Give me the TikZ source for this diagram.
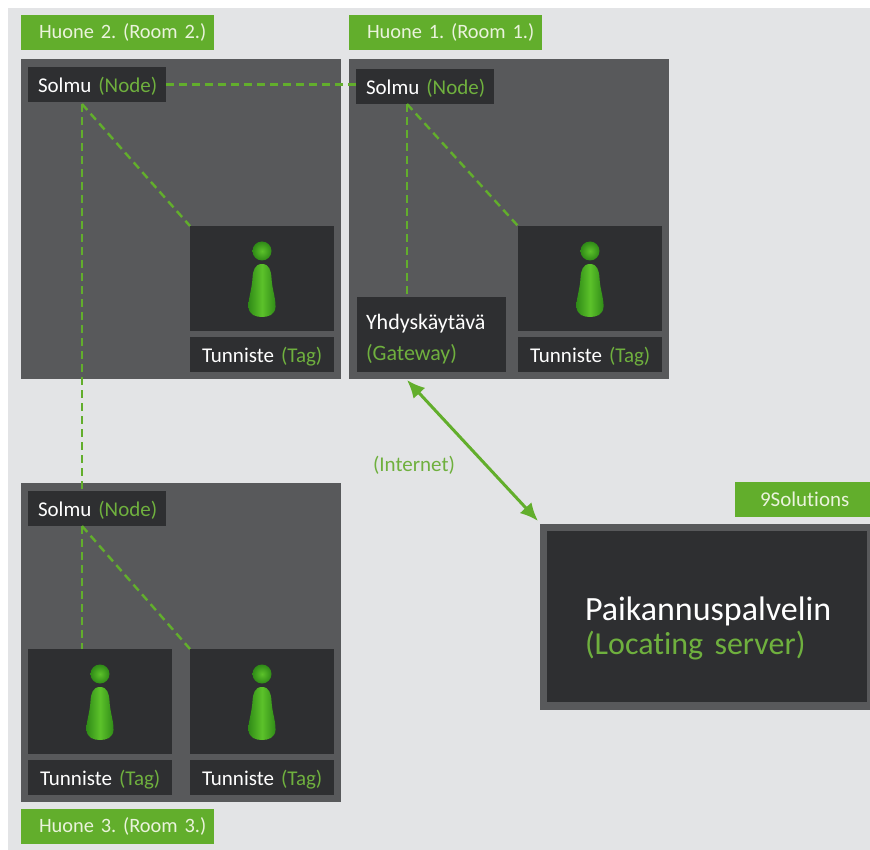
\documentclass[tikz,border=0pt]{standalone}
\usepackage{fontspec}
\usetikzlibrary{arrows.meta}
\setmainfont{Carlito}[Ligatures=NoCommon]
\definecolor{bgc}{HTML}{E3E4E6}
\definecolor{roomc}{HTML}{58595B}
\definecolor{boxc}{HTML}{2E2F31}
\definecolor{grn}{HTML}{62AE2C}
\definecolor{txtg}{HTML}{6FB03E}
\definecolor{labg}{HTML}{EAF3DC}
\definecolor{pinmid}{HTML}{5CC22A}
\definecolor{pinedge}{HTML}{2F8A17}
\newcommand{\gt}[1]{\textcolor{txtg}{#1}}
\newcommand{\lowstrut}{\rule{0pt}{19pt}}
\tikzset{x=1pt,y=-1pt,
 room/.style={fill=roomc,draw=none,anchor=north west,inner sep=0,outer sep=0},
 darkbox/.style={fill=boxc,draw=none,anchor=north west,inner sep=0,outer sep=0},
 lab/.style={darkbox,text=white,font=\fontsize{21}{24}\selectfont\frenchspacing,align=left},
 banner/.style={fill=grn,draw=none,anchor=north west,inner sep=0,outer sep=0,text=labg,font=\fontsize{20.4}{24}\selectfont\frenchspacing},
 link/.style={draw=grn,line width=2.4pt,dash pattern=on 8pt off 5pt},
 biarrow/.style={draw=grn,line width=3pt,{Latex[length=18pt,width=16pt]}-{Latex[length=18pt,width=16pt]}},
 pinc/.pic={
  \shade[inner color=pinmid,outer color=pinedge] (0,-32) circle[radius=9.5];
  \shade[left color=pinedge,right color=pinedge,middle color=pinmid]
    (0,-19) .. controls (-7,-19) and (-9,-13) .. (-9.5,-5)
    .. controls (-10,6) and (-14,16) .. (-13.5,24)
    .. controls (-13,32) and (-6,34) .. (0,34)
    .. controls (6,34) and (13,32) .. (13.5,24)
    .. controls (14,16) and (10,6) .. (9.5,-5)
    .. controls (9,-13) and (7,-19) .. (0,-19) -- cycle;
 }}
\newcommand{\boxat}[6]{\node[#1,minimum width=#4pt,minimum height=#5pt] (#6) at (#2,#3) {};}
\begin{document}
\begin{tikzpicture}
\useasboundingbox (0,0) rectangle (870,850);
\fill[white] (0,0) rectangle (870,850);
\fill[bgc] (8,8) rectangle (870,850);
% rooms
\boxat{room}{21}{59}{320}{320}{roomB}
\boxat{room}{349}{59}{320}{320}{roomA}
\boxat{room}{21}{483}{320}{319}{roomC}
\boxat{room}{540}{524}{330}{186}{srvframe}
% banners
\node[banner,minimum width=193pt,minimum height=35pt,text width=193pt,align=left] (banB) at (21,15) {\hspace*{18pt}Huone 2. (Room 2.)};
\node[banner,minimum width=193pt,minimum height=35pt,text width=193pt,align=left] (banA) at (349,15) {\hspace*{18pt}Huone 1. (Room 1.)};
\node[banner,minimum width=193pt,minimum height=35pt,text width=193pt,align=left] (banC) at (21,809) {\hspace*{18pt}Huone 3. (Room 3.)};
\node[banner,font=\fontsize{21}{24}\selectfont,minimum width=135pt,minimum height=35pt,text width=135pt,align=left] (banS) at (735,482) {\hspace*{25pt}9Solutions};
% node boxes
\node[lab,minimum width=138pt,minimum height=35pt,text width=138pt] (nodeB) at (28,67) {\lowstrut\hspace*{10pt}Solmu \gt{(Node)}};
\node[lab,minimum width=138pt,minimum height=35pt,text width=138pt] (nodeA) at (356,69) {\lowstrut\hspace*{10pt}Solmu \gt{(Node)}};
\node[lab,minimum width=138pt,minimum height=35pt,text width=138pt] (nodeC) at (28,491) {\lowstrut\hspace*{10pt}Solmu \gt{(Node)}};
% tag boxes
\boxat{darkbox}{190}{226}{144}{105}{tagB}
\boxat{darkbox}{518}{226}{144}{105}{tagA}
\boxat{darkbox}{28}{649}{144}{105}{tagCa}
\boxat{darkbox}{190}{649}{144}{105}{tagCb}
\node[lab,minimum width=144pt,minimum height=35pt,text width=144pt] (labB) at (190,337) {\lowstrut\hspace*{12pt}Tunniste \gt{(Tag)}};
\node[lab,minimum width=144pt,minimum height=35pt,text width=144pt] (labA) at (518,337) {\lowstrut\hspace*{12pt}Tunniste \gt{(Tag)}};
\node[lab,minimum width=144pt,minimum height=35pt,text width=144pt] (labCa) at (28,760) {\lowstrut\hspace*{12pt}Tunniste \gt{(Tag)}};
\node[lab,minimum width=144pt,minimum height=35pt,text width=144pt] (labCb) at (190,760) {\lowstrut\hspace*{12pt}Tunniste \gt{(Tag)}};
% gateway
\node[lab,minimum width=149pt,minimum height=75pt,text width=149pt,font=\fontsize{22}{31}\selectfont] (gw) at (357,297) {\rule{0pt}{24pt}\hspace*{9pt}Yhdyskäytävä\\\hspace*{9pt}\gt{(Gateway)}};
% server
\node[darkbox,minimum width=320pt,minimum height=171pt,text width=320pt,font=\fontsize{34}{34}\selectfont,text=white,align=left] (srv) at (547,531) {\rule{0pt}{47pt}\hspace*{38pt}Paikannuspalvelin\\\hspace*{38pt}\fontsize{32}{34}\selectfont\gt{(Locating server)}};
% named connector ends
\coordinate (nbS) at (82,104);
\coordinate (naS) at (407,104);
\coordinate (ncS) at (82,526);
% links
\draw[link] (nodeB.east) -- (nodeA.west |- nodeB.east);
\draw[link] (nbS) -- (tagB.north west);
\draw[link] (naS) -- (tagA.north west);
\draw[link] (ncS) -- (tagCb.north west);
\draw[link] (nbS) -- (nbS |- nodeC.north);
\draw[link] (naS) -- (naS |- gw.north);
\draw[link] (ncS) -- (ncS |- tagCa.north);
% arrow
\coordinate (ar1) at (407,380);
\coordinate (ar2) at (538,521);
\draw[biarrow] (ar1) -- (ar2);
\node[font=\fontsize{21}{24}\selectfont,text=txtg,inner sep=0] (inet) at (414,465) {(Internet)};
% pins
\pic at (262,283) {pinc};
\pic at (590,283) {pinc};
\pic at (100,706) {pinc};
\pic at (262,706) {pinc};
\end{tikzpicture}
\end{document}
